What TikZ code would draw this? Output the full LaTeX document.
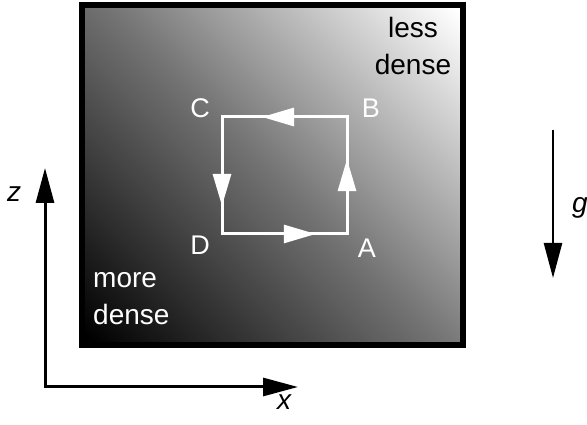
\documentclass[tikz,border=0pt]{standalone}
\usepackage{fontspec}
\setmainfont{Liberation Sans}
\usetikzlibrary{arrows.meta,decorations.markings}

\pgfdeclareverticalshading{densityshade}{100bp}{color(0bp)=(black); color(15bp)=(black);
  color(50bp)=(black!55); color(85bp)=(white); color(100bp)=(white)}

\begin{document}
\begin{tikzpicture}[x=1pt, y=1pt, >={Triangle[length=35pt, width=18pt]},
  every node/.style={font=\fontsize{28}{37}\selectfont, inner sep=0pt},
  axis/.style={line width=3pt},
  corner/.style={white, anchor=base, font=\fontsize{27}{30}\selectfont},
  loopedge/.style={white, line width=3pt, line cap=rect,
    postaction={decorate}, decoration={markings,
      mark=at position #1 with {\arrow{Triangle[length=32pt, width=18pt]}}}}]
  \useasboundingbox (0,0) rectangle (587,425);

  % density field
  \shade[shading=densityshade, shading angle=-45] (85,83) rectangle (460,417);
  \draw[line width=6pt] (82,80) rectangle (463,420);

  \node[anchor=base, align=center] (less) at (413,350) {less\\dense};
  \node[anchor=base west, align=left, white] (more) at (93,100) {more\\dense};

  % circuit
  \coordinate (A) at (347,191);
  \coordinate (B) at (347,308);
  \coordinate (C) at (222,308);
  \coordinate (D) at (222,191);
  \draw[loopedge=0.68] (B) -- (C);
  \draw[loopedge=0.76] (C) -- (D);
  \draw[loopedge=0.75] (D) -- (A);
  \draw[loopedge=0.64] (A) -- (B);
  \node[corner] (labA) at (367,167) {A};
  \node[corner] (labB) at (371,307) {B};
  \node[corner] (labC) at (200,307) {C};
  \node[corner] (labD) at (200,170) {D};

  % axes and gravity
  \coordinate (O) at (45,38);
  \coordinate (ztip) at (45,257);
  \coordinate (xtip) at (298,38);
  \draw[axis, <->] (ztip) -- (O) -- (xtip);
  \node[anchor=base] (zlab) at (14,223) {\itshape z};
  \node[anchor=base] (xlab) at (284,15) {\itshape x};

  \coordinate (gtop) at (553,295);
  \coordinate (gtip) at (553,147);
  \draw[line width=2.5pt, ->] (gtop) -- (gtip);
  \node[anchor=base] (glab) at (580,212) {\itshape g};
\end{tikzpicture}
\end{document}
